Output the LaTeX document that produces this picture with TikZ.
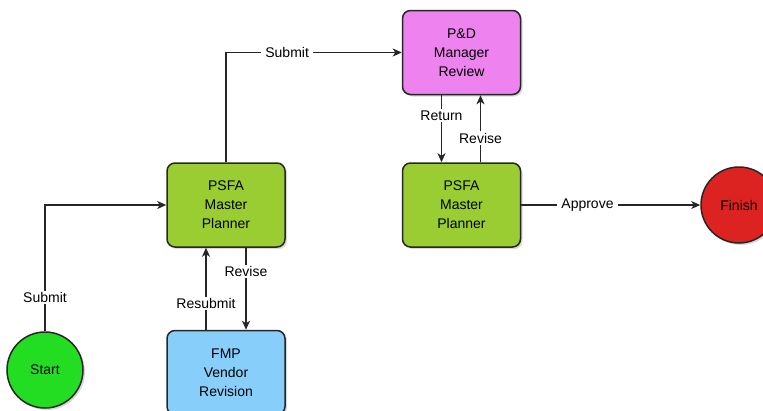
\documentclass[tikz,border=0pt]{standalone}
\usepackage{fontspec}
\setmainfont{Liberation Sans}
\usetikzlibrary{positioning,shadows,arrows.meta}
\definecolor{planGreen}{HTML}{9ACD32}
\definecolor{revViolet}{HTML}{EE82EE}
\definecolor{fmpBlue}{HTML}{87CEFA}
\definecolor{startGreen}{HTML}{22DD22}
\definecolor{finishRed}{HTML}{DD2222}
\definecolor{edgeGray}{HTML}{262626}
\begin{document}
\begin{tikzpicture}[x=1pt,y=1pt,line width=1.5pt,
    font=\fontsize{14}{19}\selectfont,
    every node/.style={align=center},
    task/.style={rectangle,rounded corners=8pt,draw=edgeGray,
      minimum width=118pt,minimum height=84pt,inner sep=0pt,
      drop shadow={shadow xshift=2pt,shadow yshift=-2pt,opacity=0.3}},
    endpoint/.style={circle,draw=edgeGray,minimum size=76pt,inner sep=0pt,
      drop shadow={shadow xshift=2pt,shadow yshift=-2pt,opacity=0.3}},
    flow/.style={-{Stealth[length=9pt,width=8pt,inset=2.5pt]},draw=edgeGray},
    tag/.style={fill=white,inner xsep=4pt,inner ysep=1.5pt}]

    \useasboundingbox (0,0) rectangle (763,-410);

    \node[endpoint,fill=startGreen] (node-start) at (45,-370) {Start};
    \node[task,fill=planGreen] (node-planA) at (226,-205) {PSFA\\Master\\Planner};
    \node[task,fill=fmpBlue,below=82pt of node-planA] (node-fmp) {FMP\\Vendor\\Revision};
    \node[task,fill=planGreen,right=116pt of node-planA] (node-planB) {PSFA\\Master\\Planner};
    \node[task,fill=revViolet,above=67pt of node-planB] (node-review) {P\&D\\Manager\\Review};
    \node[endpoint,fill=finishRed,right=179pt of node-planB] (node-finish) {Finish};

    \draw[flow] (node-start) |- node[tag,pos=0.135] {Submit} (node-planA);
    \draw[flow] (node-planA) |- node[tag,pos=0.674] {Submit} (node-review);
    \draw[flow] ([xshift=20pt]node-planA.south) -- ([xshift=20pt]node-fmp.north)
       node[tag,pos=0.29] {Revise};
    \draw[flow] ([xshift=-20pt]node-fmp.north) -- ([xshift=-20pt]node-planA.south)
       node[tag,pos=0.32] {Resubmit};
    \draw[flow] ([xshift=-20pt]node-review.south) -- ([xshift=-20pt]node-planB.north)
       node[tag,pos=0.3] {Return};
    \draw[flow] ([xshift=19pt]node-planB.north) -- ([xshift=19pt]node-review.south)
       node[tag,pos=0.36] {Revise};
    \draw[flow] (node-planB) -- (node-finish)
       node[tag,pos=0.37] {Approve};
\end{tikzpicture}
\end{document}
